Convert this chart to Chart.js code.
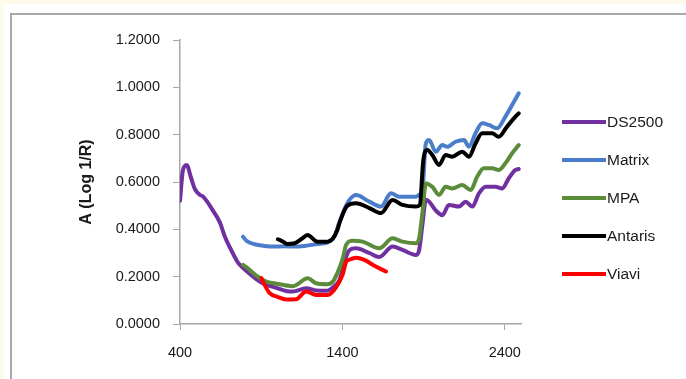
<!DOCTYPE html>
<html>
<head>
<meta charset="utf-8">
<script src="https://cdn.jsdelivr.net/npm/chart.js@4.4.0/dist/chart.umd.min.js"></script>
<style>
  html, body { margin: 0; padding: 0; background: #fffbea; width: 686px; height: 379px; overflow: hidden; }
  #paper { position: absolute; left: 4px; top: 4px; width: 720px; height: 420px; background: #fff; }
  #frame { position: absolute; left: 10px; top: 13px; width: 720px; height: 420px; border: 2px solid #a9a9a9; box-sizing: border-box; }
  #wrap { position: absolute; left: 0; top: 0; width: 686px; height: 379px; }
</style>
</head>
<body>
<div id="paper"></div>
<div id="frame"></div>
<div id="wrap"><canvas id="chart" width="686" height="379"></canvas></div>
<script>
  // Spektra: våglängd (nm) och absorbans A (log 1/R)
  const seriesNames = ['DS2500', 'Matrix', 'MPA', 'Antaris', 'Viavi'];

  const ds2500Wl = [400, 418, 441, 467, 492, 523, 540, 564, 602, 645, 676, 717, 756, 799, 860, 909, 983, 1063, 1095, 1177, 1239, 1300, 1351, 1382, 1423, 1443, 1484, 1566, 1627, 1709, 1770, 1852, 1872, 1893, 1914, 1934, 1975, 2016, 2056, 2118, 2159, 2200, 2241, 2282, 2343, 2384, 2425, 2466, 2486];
  const ds2500Abs = [0.52, 0.65, 0.672, 0.62, 0.57, 0.545, 0.54, 0.52, 0.48, 0.43, 0.37, 0.31, 0.26, 0.23, 0.195, 0.172, 0.155, 0.138, 0.137, 0.151, 0.142, 0.14, 0.16, 0.186, 0.284, 0.312, 0.32, 0.30, 0.283, 0.327, 0.313, 0.292, 0.31, 0.42, 0.525, 0.517, 0.48, 0.46, 0.503, 0.496, 0.517, 0.496, 0.552, 0.58, 0.58, 0.573, 0.616, 0.651, 0.655];

  const matrixWl = [788, 809, 860, 920, 983, 1044, 1106, 1166, 1247, 1308, 1351, 1382, 1423, 1443, 1484, 1566, 1638, 1699, 1750, 1852, 1872, 1893, 1914, 1934, 1975, 2016, 2046, 2097, 2149, 2179, 2220, 2261, 2302, 2353, 2404, 2445, 2486];
  const matrixAbs = [0.369, 0.352, 0.337, 0.33, 0.327, 0.328, 0.327, 0.33, 0.338, 0.345, 0.37, 0.43, 0.50, 0.524, 0.545, 0.517, 0.496, 0.552, 0.538, 0.538, 0.545, 0.566, 0.763, 0.777, 0.728, 0.756, 0.749, 0.77, 0.777, 0.749, 0.806, 0.848, 0.841, 0.827, 0.876, 0.925, 0.975];

  const mpaWl = [788, 809, 860, 932, 983, 1095, 1187, 1239, 1308, 1341, 1369, 1402, 1423, 1463, 1525, 1627, 1709, 1770, 1852, 1872, 1893, 1914, 1954, 1995, 2036, 2077, 2138, 2190, 2230, 2271, 2322, 2363, 2404, 2445, 2486];
  const mpaAbs = [0.25, 0.24, 0.21, 0.179, 0.172, 0.16, 0.193, 0.172, 0.168, 0.179, 0.215, 0.275, 0.334, 0.352, 0.348, 0.32, 0.362, 0.348, 0.341, 0.36, 0.47, 0.594, 0.58, 0.545, 0.58, 0.573, 0.587, 0.566, 0.622, 0.658, 0.658, 0.651, 0.679, 0.721, 0.756];

  const antarisWl = [1003, 1030, 1060, 1106, 1150, 1185, 1247, 1308, 1340, 1369, 1382, 1431, 1484, 1566, 1638, 1709, 1770, 1852, 1877, 1898, 1923, 1954, 1995, 2036, 2077, 2138, 2179, 2220, 2261, 2322, 2363, 2414, 2466, 2486];
  const antarisAbs = [0.358, 0.35, 0.338, 0.341, 0.36, 0.376, 0.348, 0.348, 0.36, 0.397, 0.427, 0.50, 0.51, 0.49, 0.469, 0.524, 0.503, 0.496, 0.503, 0.69, 0.735, 0.714, 0.672, 0.714, 0.707, 0.728, 0.707, 0.763, 0.806, 0.806, 0.791, 0.834, 0.876, 0.89];

  const viaviWl = [901, 925, 952, 1000, 1054, 1116, 1177, 1239, 1310, 1361, 1402, 1423, 1443, 1484, 1545, 1586, 1669];
  const viaviAbs = [0.194, 0.16, 0.13, 0.115, 0.103, 0.105, 0.137, 0.123, 0.123, 0.155, 0.21, 0.263, 0.272, 0.28, 0.268, 0.25, 0.222];

  const xTicks = [400, 1400, 2400];
  const yTicks = [0, 0.2, 0.4, 0.6, 0.8, 1.0, 1.2];

  const colors = ['#7030a0', '#4a7ecb', '#5b8c3a', '#000000', '#ff0000'];
  const wls = [ds2500Wl, matrixWl, mpaWl, antarisWl, viaviWl];
  const abss = [ds2500Abs, matrixAbs, mpaAbs, antarisAbs, viaviAbs];

  const FONT = '"Liberation Sans", Arial, sans-serif';
  const toPoints = (xs, ys) => xs.map((x, i) => ({ x: x, y: ys[i] }));

  // Egen legend till höger, som i Excel
  const sideLegend = {
    id: 'sideLegend',
    afterDraw(chart) {
      const c = chart.ctx;
      c.save();
      c.font = '15.5px ' + FONT;
      c.textBaseline = 'middle';
      chart.data.datasets.forEach((ds, i) => {
        const y = 122 + i * 38;
        c.strokeStyle = ds.borderColor;
        c.lineWidth = 4;
        c.beginPath();
        c.moveTo(562, y);
        c.lineTo(606, y);
        c.stroke();
        c.fillStyle = '#1a1a1a';
        c.fillText(ds.label, 607, y + 1);
      });
      c.restore();
    }
  };

  const ctx = document.getElementById('chart').getContext('2d');
  new Chart(ctx, {
    type: 'line',
    data: {
      datasets: seriesNames.map((name, i) => ({
        label: name,
        data: toPoints(wls[i], abss[i]),
        borderColor: colors[i],
        backgroundColor: colors[i],
        borderWidth: 4,
        pointRadius: 0,
        cubicInterpolationMode: 'monotone',
        borderCapStyle: 'round',
        borderJoinStyle: 'round',
        fill: false,
        order: seriesNames.length - i,
      })),
    },
    options: {
      responsive: false,
      animation: false,
      devicePixelRatio: 1,
      layout: { padding: { left: 73, top: 40, right: 165, bottom: 0 } },
      plugins: {
        legend: { display: false },
        tooltip: { enabled: false },
      },
      scales: {
        x: {
          type: 'linear',
          min: 400,
          max: 2500,
          afterBuildTicks: axis => { axis.ticks = xTicks.map(v => ({ value: v })); },
          afterFit: axis => { axis.height = 55; },
          grid: { drawOnChartArea: false, drawTicks: true, tickLength: 6, color: '#a6a6a6' },
          border: { color: '#a6a6a6', width: 1.5 },
          ticks: {
            color: '#1a1a1a',
            padding: 14,
            maxRotation: 0,
            font: { family: FONT, size: 14.5 },
            callback: v => v.toString(),
          },
        },
        y: {
          min: 0,
          max: 1.2,
          afterBuildTicks: axis => { axis.ticks = yTicks.map(v => ({ value: v })); },
          afterFit: axis => { axis.width = 107; },
          grid: { drawOnChartArea: false, drawTicks: true, tickLength: 7, color: '#a6a6a6' },
          border: { color: '#a6a6a6', width: 1.5 },
          title: {
            display: true,
            text: 'A (Log 1/R)',
            color: '#1a1a1a',
            padding: { top: 4, bottom: 0 },
            font: { family: FONT, size: 16, weight: 'bold' },
          },
          ticks: {
            color: '#1a1a1a',
            padding: 13,
            font: { family: FONT, size: 14.5 },
            callback: v => v.toFixed(4),
          },
        },
      },
    },
    plugins: [sideLegend],
  });
</script>
</body>
</html>
